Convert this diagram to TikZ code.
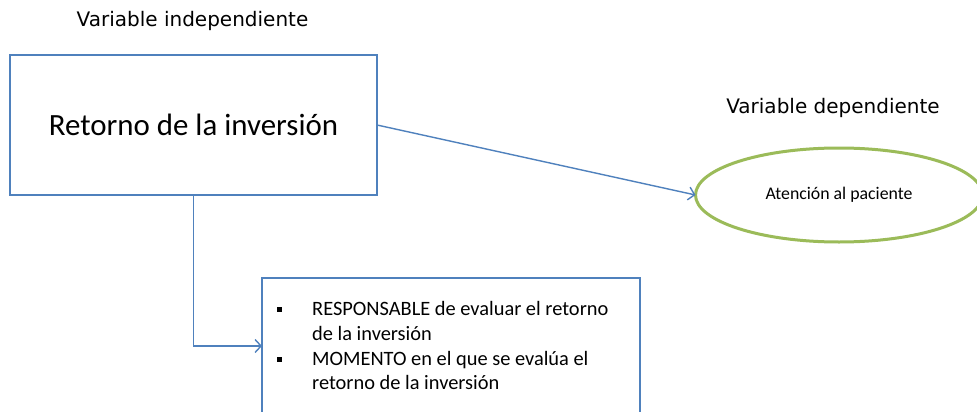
\documentclass[tikz,border=0pt]{standalone}
\usepackage{fontspec}
\setmainfont{Carlito}
\newfontfamily\lblfont{DejaVu Sans}
\usetikzlibrary{shapes.geometric,arrows.meta}
\definecolor{boxblue}{HTML}{4F81BD}
\definecolor{ellgreen}{HTML}{9BBB59}
\begin{document}
\begin{tikzpicture}[x=1pt,y=-1pt,
  box/.style={draw=boxblue,line width=2pt,rectangle,inner sep=0pt,outer sep=0pt},
  conn/.style={draw=boxblue,line width=1.4pt,-{Straight Barb[length=6pt,width=13pt,line width=1.4pt]}},
  lbl/.style={font=\lblfont\fontsize{20}{24}\selectfont,inner sep=0pt,anchor=base},
  itemtxt/.style={font=\fontsize{20.4}{24}\selectfont,inner sep=0pt,anchor=base west},
  bul/.style={fill=black,minimum size=5pt,inner sep=0pt}]
\useasboundingbox (0,0) rectangle (977,412);
\clip (0,0) rectangle (977,412);
\fill[white] (0,0) rectangle (977,412);
% boxes
\node[box,minimum width=367pt,minimum height=140pt,font=\fontsize{30.9}{36}\selectfont] (ind) at (193.5,125) {Retorno de la inversión};
\node[ellipse,draw=ellgreen,line width=3pt,minimum width=287pt,minimum height=94pt,inner sep=0pt,outer sep=0pt,font=\fontsize{17.8}{21}\selectfont] (dep) at (839,195) {Atención al paciente};
\node[box,minimum width=378pt,minimum height=136pt] (det) at (451,346) {};
% labels
\node[lbl] (lind) at (192.5,26.5) {Variable independiente};
\node[lbl] (ldep) at (833,113) {Variable dependiente};
% bullet text
\node[bul] (b1) at (279,309.5) {};
\node[bul] (b2) at (279,359.5) {};
\node[itemtxt] (t1) at (312,315) {RESPONSABLE de evaluar el retorno};
\node[itemtxt] (t2) at (312,340.5) {de la inversión};
\node[itemtxt] (t3) at (312,365) {MOMENTO en el que se evalúa el};
\node[itemtxt] (t4) at (312,389.5) {retorno de la inversión};
% connectors
\draw[conn] (ind.east) -- (dep.west);
\draw[conn] (ind.south) |- (det.west);
\end{tikzpicture}
\end{document}
